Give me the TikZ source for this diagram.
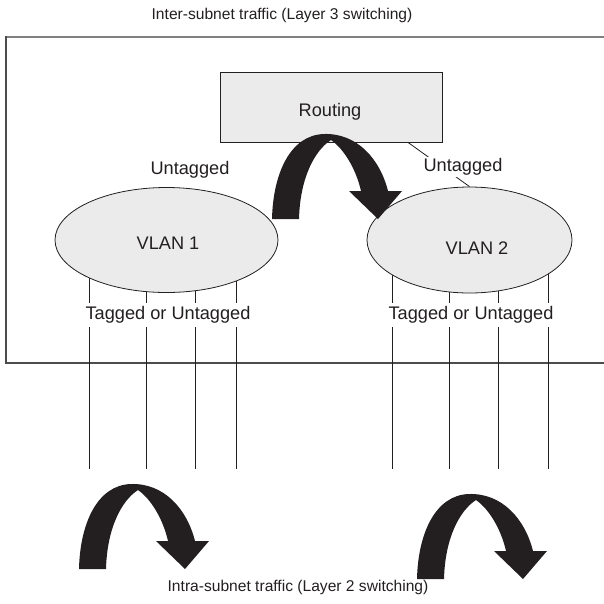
\documentclass[tikz,border=0pt]{standalone}
\usepackage{fontspec}
\setmainfont{Liberation Sans}
\usetikzlibrary{calc,positioning,shapes.geometric}
\definecolor{panelgray}{HTML}{EBEBEB}
\definecolor{inkgray}{HTML}{231F20}
\tikzset{
  uturn/.pic={
    \fill[inkgray] (0,0) .. controls (1,-45) and (18,-84) .. (52,-85)
      .. controls (85,-86) and (108,-60) .. (116,-28)
      -- (130,-28) -- (106,0) -- (77,-28) -- (89,-28)
      .. controls (84,-50) and (72,-70) .. (59,-79)
      .. controls (42,-68) and (28,-40) .. (27,0) -- cycle;
  }
}

\begin{document}
\begin{tikzpicture}[x=1pt,y=-1pt,
  lbl/.style={font=\fontsize{18.2}{21}\selectfont,text=inkgray,inner sep=2pt},
  caption/.style={font=\fontsize{15.6}{18}\selectfont,text=inkgray},
  vlan/.style={ellipse,draw=inkgray,line width=0.8pt,fill=panelgray,inner sep=0pt},
  port/.style={line width=0.9pt,inkgray},
  cut/.style={lbl,fill=white,inner sep=4pt}]
  \useasboundingbox (0,0) rectangle (604,603);
  % switch, open on the right
  \draw[line width=2pt,black!50] (6,37) -- (604,37);
  \draw[line width=1.2pt,black!70] (6,36) -- (6,363) -- (604,363);
  \node[caption] (l3) at (282,15) {Inter-subnet traffic (Layer 3 switching)};
  \node[caption] (l2) at (298,587) {Intra-subnet traffic (Layer 2 switching)};
  % member ports
  \foreach \x in {89,146,195,236,392,449,498,548}{ \draw[port] (\x,240) -- (\x,469); }
  \node[cut] (tag1) at (168,315) {Tagged or Untagged};
  \node[cut] (tag2) at (471,315) {Tagged or Untagged};
  % the two vlans
  \node[vlan,minimum width=223,minimum height=105] (v1) at (166.5,240) {};
  \node[vlan,minimum width=205,minimum height=106] (v2) at (469.5,240) {};
  \node[lbl] (v1t) at (168,243) {VLAN 1};
  \node[lbl] (v2t) at (477,248) {VLAN 2};
  % routing engine
  \node[draw=inkgray,line width=0.8pt,fill=panelgray,minimum width=222,minimum height=70,
        inner sep=0pt] (routing) at (331,107) {};
  \node[lbl] (routingt) at (330,112) {Routing};
  \draw[line width=0.8pt,inkgray] ($(routing.south)+(77,0)$) -- (v2.north);
  \node[lbl] (ut1) at (190,170) {Untagged};
  \node[cut,inner sep=2pt] (ut2) at (463,167) {Untagged};
  % traffic turns
  \pic (l3turn) at (272,219) {uturn};
  \pic (l2turn1) at (79,569) {uturn};
  \pic (l2turn2) at (417,579) {uturn};
\end{tikzpicture}
\end{document}
